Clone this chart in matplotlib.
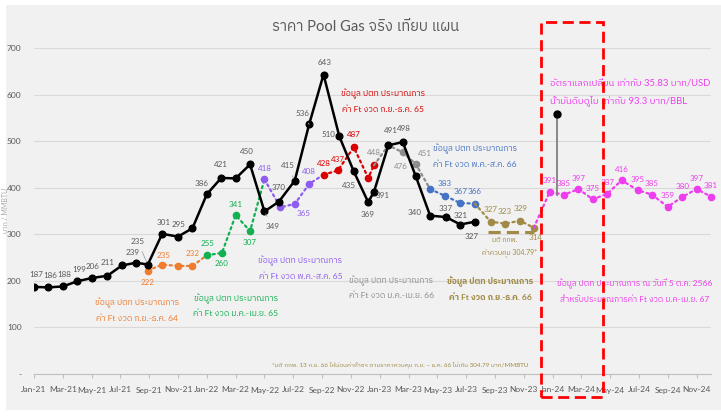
import matplotlib
matplotlib.use("Agg")
import matplotlib.pyplot as plt
from matplotlib.patches import Rectangle

# Lato for latin, Thai glyphs fall through to a Thai font
plt.rcParams['font.family'] = ['Lato', 'IBM Plex Sans Thai', 'Loma', 'DejaVu Sans']

# ---- data (x = months since Jan-21) ----
month_labels = ['Jan-21', 'Mar-21', 'May-21', 'Jul-21', 'Sep-21', 'Nov-21',
                'Jan-22', 'Mar-22', 'May-22', 'Jul-22', 'Sep-22', 'Nov-22',
                'Jan-23', 'Mar-23', 'May-23', 'Jul-23', 'Sep-23', 'Nov-23',
                'Jan-24', 'Mar-24', 'May-24', 'Jul-24', 'Sep-24', 'Nov-24']
ytick_labels = ['-', '100', '200', '300', '400', '500', '600', '700']

black_x = [0, 1.0, 2.0, 3.0, 4.0, 5.1, 6.1, 7.1, 7.9, 8.9, 10.0, 11.0,
           12.0, 13.0, 14.0, 15.0, 16.0, 17.0, 18.1, 19.1, 20.1, 21.2, 22.2, 23.2,
           23.6, 24.6, 25.6, 26.5, 27.5, 28.6, 29.6, 30.6]
black_y = [187, 186, 188, 199, 206, 211, 233, 239, 235, 301, 295, 313,
           386, 421, 420, 450, 349, 370, 415, 536, 643, 510, 435, 369,
           391, 491, 498, 425, 340, 337, 321, 327]

orange_x = [7.9, 8.9, 10.0, 11.0, 12.0]
orange_y = [222, 235, 232, 232, 255]
green_x = [12.0, 13.05, 14.0, 15.0, 16.0]
green_y = [255, 260, 341, 307, 418]
purple_x = [16.0, 17.1, 18.1, 19.1, 20.1]
purple_y = [418, 358, 365, 408, 428]
red_x = [20.1, 21.1, 22.2, 23.2, 23.6]
red_y = [428, 437, 487, 421, 448]
gray_x = [23.6, 24.6, 25.6, 26.5, 27.5]
gray_y = [448, 491, 476, 451, 397]
blue_x = [27.5, 28.5, 29.6, 30.6]
blue_y = [397, 383, 367, 366]
olive_x = [30.6, 31.7, 32.7, 33.75, 34.7]
olive_y = [366, 327, 323, 329, 314]
pink_x = [34.7, 35.8, 36.8, 37.8, 38.8, 39.8, 40.8, 41.9, 42.9, 44.0, 45.0, 46.0, 47.0]
pink_y = [314, 391, 385, 397, 375, 387, 416, 395, 385, 359, 380, 397, 381]

control_price = 304.79
control_x = [31.5, 34.7]
callout_x = 36.3
callout_y = [384, 558]

# label offsets in pixels (index: (dx, dy, leader))
black_lbl = {0: (2, 12, 0), 1: (2, 12, 0), 2: (1, 12, 0), 3: (2, 12, 0), 4: (1, 12, 0),
             5: (0, 13, 0), 7: (-4, 10, 0), 8: (-10, 23, 1), 9: (1, 11, 0), 10: (0, 12, 0),
             12: (-5, 11, 0), 13: (0, 13, 0), 15: (-3, 13, 0), 16: (8, -15, 1), 17: (0, 14, 0),
             18: (-7, 15, 1), 19: (-7, 11, 1), 20: (1, 12, 0), 21: (-11, 2, 0),
             22: (-5, -14, 0), 23: (-1, -12, 0), 24: (9, -4, 0), 25: (3, 15, 0),
             26: (1, 14, 0), 28: (-16, 3, 0), 29: (0, 9, 0), 30: (0, 9, 0), 31: (-3, -15, 0)}
orange_lbl = {0: (0, -12, 0), 1: (1, 9, 0), 3: (0, 12, 0)}
green_lbl = {0: (1, 12, 0), 1: (0, -11, 0), 2: (0, 11, 0), 3: (0, -11, 0)}
purple_lbl = {0: (0, 11, 0), 2: (9, -9, 0), 3: (0, 12, 0)}
red_lbl = {0: (0, 11, 0), 1: (0, 11, 0), 2: (0, 13, 0)}
gray_lbl = {0: (0, 13, 0), 2: (-2, -14, 0), 3: (9, 10, 1)}
blue_lbl = {1: (0, 12, 0), 2: (0, 12, 0), 3: (0, 12, 0)}
olive_lbl = {1: (0, 12, 0), 2: (0, 12, 0), 3: (0, 12, 0), 4: (2, -10, 0)}
pink_lbl = {i: (0, 11, 0) for i in range(1, 13)}

c_txt = '#595959'
c_orange = '#F07C2E'
c_green = '#12B050'
c_purple = '#8E5CF0'
c_red = '#D90000'
c_gray = '#8C8C8C'
c_blue = '#4472C4'
c_olive = '#A08A45'
c_pink = '#EE3DEE'

fig = plt.figure(figsize=(7.21, 4.17), dpi=100)
fig.patches.append(Rectangle((6 / 721, 7 / 417), 715 / 721, 405 / 417, transform=fig.transFigure,
                             facecolor='#F1F1F1', edgecolor='none', zorder=-5))
ax = fig.add_axes([34 / 721, 43 / 417, 677 / 721, 326 / 417])
ax.set_facecolor('none')
ax.set_xlim(0, 47)
ax.set_ylim(0, 700)
ax.set_yticks(range(0, 701, 100))
ax.set_yticklabels(ytick_labels)
ax.set_xticks(range(0, 48, 2))
ax.set_xticklabels(month_labels)
ax.tick_params(axis='y', length=0, pad=9, labelsize=6, labelcolor=c_txt)
ax.tick_params(axis='x', length=3, color='#BFBFBF', pad=6, labelsize=6, labelcolor=c_txt)
ax.grid(axis='y', color='#D9D9D9', lw=0.8)
for s in ['top', 'right', 'left']:
    ax.spines[s].set_visible(False)
ax.spines['bottom'].set_color('#BFBFBF')
ax.set_axisbelow(True)


def labels(x, y, offs, color):
    for i, (dx, dy, lead) in offs.items():
        kw = {}
        if lead:
            kw['arrowprops'] = dict(arrowstyle='-', color='#A6A6A6', lw=0.6, shrinkA=3, shrinkB=2)
        ax.annotate(str(y[i]), (x[i], y[i]), xytext=(dx, dy), textcoords='offset pixels',
                    ha='center', va='center', fontsize=5.8, color=color, zorder=6, **kw)


dot = (0, (1, 1.6))
series = [
    (orange_x, orange_y, c_orange, [0, 1, 2, 3], orange_lbl),
    (green_x, green_y, c_green, [0, 1, 2, 3], green_lbl),
    (purple_x, purple_y, c_purple, [0, 1, 2, 3], purple_lbl),
    (red_x, red_y, c_red, [0, 1, 2, 3, 4], red_lbl),
    (gray_x, gray_y, c_gray, [1, 2, 3], gray_lbl),
    (blue_x, blue_y, c_blue, [0, 1, 2, 3], blue_lbl),
    (olive_x, olive_y, c_olive, [1, 2, 3, 4], olive_lbl),
    (pink_x, pink_y, c_pink, list(range(1, 13)), pink_lbl),
]
for x, y, c, mk, lb in series:
    ax.plot(x, y, color=c, lw=1.6, ls=dot, dash_capstyle='round', marker='o', ms=4.5,
            markevery=mk, zorder=3, clip_on=False)
    labels(x, y, lb, c)

ax.plot(black_x, black_y, color='black', lw=1.8, marker='o', ms=4.8, zorder=4)
labels(black_x, black_y, black_lbl, c_txt)

ax.plot(control_x, [control_price] * 2, color=c_olive, lw=2.2, ls=(0, (4, 2)), zorder=3)
ax.plot([callout_x] * 2, callout_y, color='#808080', lw=1.3, zorder=4)
ax.plot(callout_x, callout_y[1], 'o', color='black', ms=5, zorder=5)

# annotations
fs = 6.1
head = 'ข้อมูล ปตท ประมาณการ'
ax.text(7.15, 138, head + '\nค่า Ft งวด ก.ย.-ธ.ค. 64', color=c_orange, fontsize=fs,
        ha='center', va='center', linespacing=1.9)
ax.text(14.0, 148, head + '\nค่า Ft งวด ม.ค.-เม.ย. 65', color=c_green, fontsize=fs,
        ha='center', va='center', linespacing=1.9)
ax.text(18.5, 228, head + '\nค่า Ft งวด พ.ค.-ส.ค. 65', color=c_purple, fontsize=fs,
        ha='center', va='center', linespacing=1.9)
ax.text(24.2, 587, head + '\nค่า Ft งวด ก.ย.-ธ.ค. 65', color=c_red, fontsize=fs,
        ha='center', va='center', linespacing=1.9)
ax.text(24.8, 186, head + '\nค่า Ft งวด ม.ค.-เม.ย. 66', color=c_gray, fontsize=fs,
        ha='center', va='center', linespacing=1.9)
ax.text(30.6, 469, head + '\nค่า Ft งวด พ.ค.-ส.ค. 66', color=c_blue, fontsize=fs,
        ha='center', va='center', linespacing=1.9)
ax.text(31.7, 184, head + '\nค่า Ft งวด ก.ย.-ธ.ค. 66', color=c_olive, fontsize=fs,
        ha='center', va='center', linespacing=1.9, fontweight='bold')
ax.text(35.85, 604, 'อัตราแลกเปลี่ยน เท่ากับ 35.83 บาท/USD\nน้ำมันดิบดูไบ เท่ากับ 93.3 บาท/BBL',
        color=c_pink, fontsize=6.8, ha='left', va='center', linespacing=1.9)
ax.text(41.7, 179, 'ข้อมูล ปตท ประมาณการ ณ วันที่ 5 ต.ค. 2566\nสำหรับประมาณการค่า Ft งวด ม.ค-เม.ย. 67',
        color=c_pink, fontsize=6.0, ha='center', va='center', linespacing=1.9)
ax.text(16.5, 19, '*มติ กกพ. 13 ก.ย. 66 ให้ผ่อนค่าก๊าซฯ ตามราคาควบคุม ก.ย. – ธ.ค. 66 ไม่เกิน 304.79 บาท/MMBTU',
        color=c_olive, fontsize=4.5, ha='left', va='center')
ax.text(32.7, 288, 'มติ กกพ.', color=c_olive, fontsize=5, ha='center', va='center')
ax.text(33.05, 260, 'ค่าควบคุม 304.79*', color=c_olive, fontsize=5, ha='center', va='center')

fig.text(6 / 721, 1 - 210 / 417, 'บาท / MMBTU', rotation=90, fontsize=5, color='#A6A6A6',
         ha='center', va='center')
fig.text(366 / 721, 1 - 27 / 417, 'ราคา Pool Gas จริง เทียบ แผน', fontsize=10.6, color=c_txt,
         ha='center', va='center')

# red dashed box
fig.add_artist(Rectangle((541 / 721, 20 / 417), 62 / 721, 375 / 417, transform=fig.transFigure,
                         fill=False, edgecolor='#FF0000', lw=2, ls=(0, (4, 2)), zorder=10))

fig.savefig('out.png', dpi=100)
